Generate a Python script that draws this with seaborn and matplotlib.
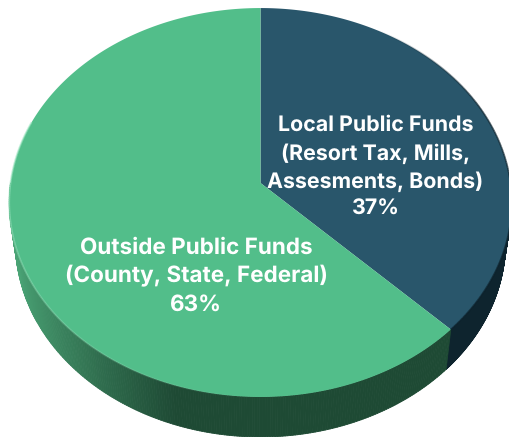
import numpy as np
import matplotlib
matplotlib.use("Agg")
import matplotlib.pyplot as plt
from matplotlib.collections import PolyCollection, LineCollection
import seaborn as sns

# Funding shares
categories = ["Local Public Funds", "Outside Public Funds"]
shares = [37, 63]
label_lines = [
    ["Local Public Funds", "(Resort Tax, Mills,", "Assesments, Bonds)", "37%"],
    ["Outside Public Funds", "(County, State, Federal)", "63%"],
]
top_colors = sns.color_palette(["#29566b", "#52be8a"])

sns.set_theme(style="white")
plt.rcParams["font.family"] = ["Inter", "DejaVu Sans"]
plt.rcParams["text.hinting"] = "no_hinting"
plt.rcParams["text.hinting_factor"] = 1

W, H = 509, 437
fig, ax = plt.subplots(figsize=(W / 100, H / 100), dpi=100)
fig.subplots_adjust(0, 0, 1, 1)
ax.set_xlim(0, W)
ax.set_ylim(H, 0)
ax.axis("off")

# Perspective view of the disc: the hub sits above the centre of the ellipse
HUB_X, HUB_Y = 260.5, 183.0
PERSP = -0.1003
SCALE_X, SCALE_Y = 250.0, 192.5
WARP = np.deg2rad(-1.8)
THICK = 40.0
BOTTOM_SHRINK = 0.975


def rim(theta, lower=False):
    """Screen position of the disc edge; theta runs clockwise from twelve o'clock."""
    t = theta + WARP * np.sin(2 * theta)
    u, v = np.sin(t), np.cos(t)
    w = 1 - PERSP * v
    x = SCALE_X * u / w
    y = -SCALE_Y * v / w
    if lower:
        return HUB_X + x * BOTTOM_SHRINK, HUB_Y + y + THICK
    return HUB_X + x, HUB_Y + y


fractions = np.array(shares) / sum(shares)
seam = 2 * np.pi * fractions[0]


def side_colour(x, slice_index):
    if slice_index == 0:
        return (0.055, 0.14, 0.18)
    light = np.array([0.29, 0.64, 0.46])
    dark = np.array([0.118, 0.29, 0.205])
    f = np.clip((x - 15) / 160, 0, 1) ** 0.8
    return tuple(light + (dark - light) * f)


# Outer wall, drawn as narrow quads so its shading can follow x
ranges = [(np.pi / 2, seam, 0), (seam, 3 * np.pi / 2, 1)]
for start, stop, idx in ranges:
    th = np.linspace(start, stop, 240)
    xt, yt = rim(th)
    xb, yb = rim(th, lower=True)
    quads = [
        [(xt[i], yt[i]), (xt[i + 1], yt[i + 1]), (xb[i + 1], yb[i + 1]), (xb[i], yb[i])]
        for i in range(len(th) - 1)
    ]
    cols = [side_colour(xt[i], idx) for i in range(len(th) - 1)]
    ax.add_collection(PolyCollection(quads, facecolors=cols, edgecolors=cols, linewidths=0.6))

# Top faces of the two slices
edges = np.concatenate([[0], np.cumsum(fractions)]) * 2 * np.pi
for i in range(len(shares)):
    th = np.linspace(edges[i], edges[i + 1], 300)
    x, y = rim(th)
    ax.fill(
        np.r_[HUB_X, x],
        np.r_[HUB_Y, y],
        color=top_colors[i],
        lw=0,
        zorder=3,
    )

# Bevel along the rim: pale on the green slice, dark on the blue one
th = np.linspace(seam, 2 * np.pi * 0.80, 300)
x, y = rim(th)
segments = np.stack([np.c_[x[:-1], y[:-1]], np.c_[x[1:], y[1:]]], axis=1)
alpha = np.clip((th[:-1] - np.pi) / 1.6, 0, 1) * 0.6
rgba = np.c_[np.full((len(alpha), 3), (0.62, 0.90, 0.76)), alpha]
ax.add_collection(LineCollection(segments, colors=rgba, linewidths=1.3, zorder=4))

th = np.linspace(0.55, seam, 200)
x, y = rim(th)
segments = np.stack([np.c_[x[:-1], y[:-1]], np.c_[x[1:], y[1:]]], axis=1)
alpha = np.clip((th[:-1] - 0.55) / 0.6, 0, 1) * 0.7
rgba = np.c_[np.full((len(alpha), 3), (0.05, 0.13, 0.17)), alpha]
ax.add_collection(LineCollection(segments, colors=rgba, linewidths=1.2, zorder=4))

# Slice captions
line_y = [[125.5, 153.5, 181.5, 209.5], [247.5, 276, 304.5]]
line_x = [375.5, 196]
line_size = [15.4, 16.2]
for lines, ys, cx, size in zip(label_lines, line_y, line_x, line_size):
    for text, yy in zip(lines, ys):
        ax.text(
            cx, yy, text, color="white", fontsize=size, fontweight="bold",
            ha="center", va="center", zorder=5,
        )

fig.savefig("out.png", dpi=100)
